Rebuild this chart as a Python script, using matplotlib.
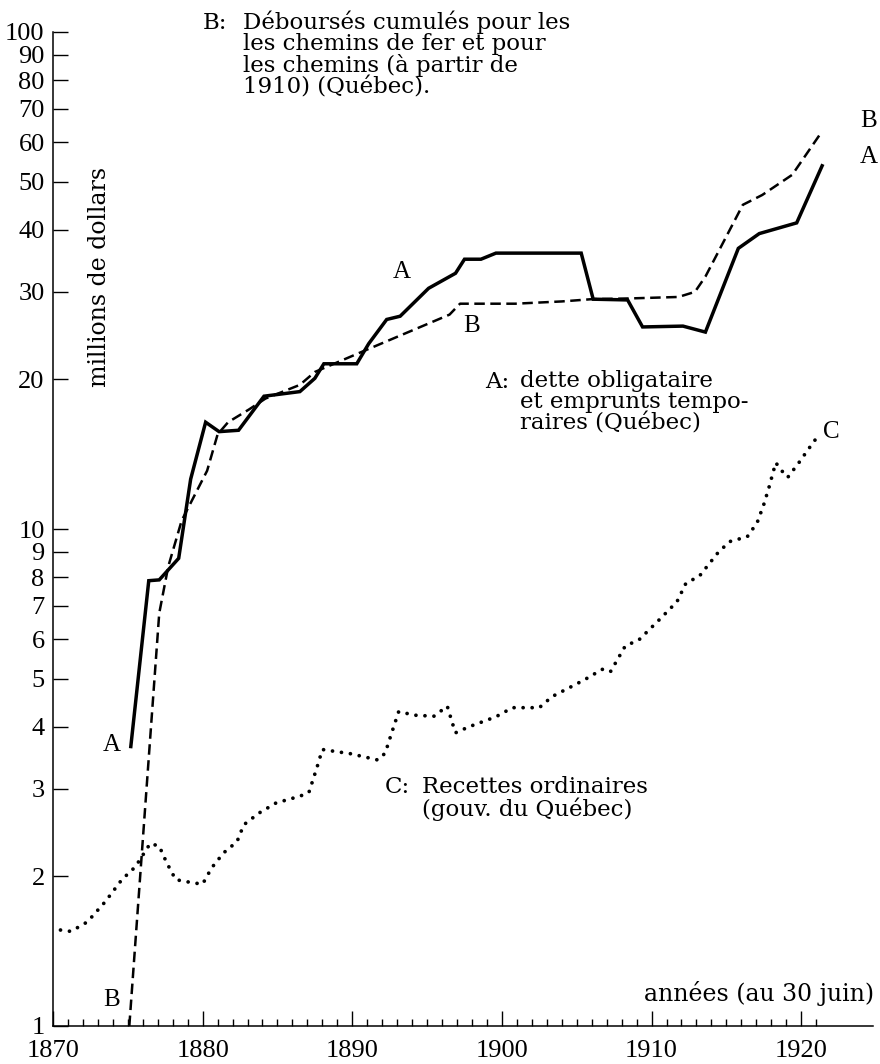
import matplotlib
matplotlib.use("Agg")
import matplotlib.pyplot as plt
from matplotlib.ticker import FixedLocator, NullFormatter

plt.rcParams['font.family'] = ['Liberation Serif', 'DejaVu Serif']

# A: dette obligataire et emprunts temporaires (millions $)
years_a = [1875.2, 1876.4, 1877.1, 1878.4, 1879.2, 1880.2, 1881.1, 1882.4, 1884.1,
           1886.5, 1887.5, 1888.1, 1890.3, 1891.1, 1892.3, 1893.2, 1895.1, 1896.9,
           1897.5, 1898.6, 1899.6, 1905.3, 1906.1, 1908.4, 1909.4, 1912.1, 1913.6,
           1915.8, 1917.2, 1919.7, 1921.4]
dette_a = [3.65, 7.87, 7.9, 8.73, 12.6, 16.4, 15.7, 15.8, 18.5,
           18.9, 20.1, 21.5, 21.5, 23.6, 26.4, 26.8, 30.5, 32.7,
           34.9, 34.9, 35.9, 35.9, 29.0, 28.9, 25.5, 25.6, 24.9,
           36.7, 39.3, 41.3, 53.8]

# B: debourses cumules chemins de fer / chemins
years_b = [1875.1, 1877.1, 1877.7, 1878.6, 1880.3, 1881.0, 1881.7, 1883.1, 1884.2,
           1886.5, 1887.5, 1890.9, 1896.5, 1897.2, 1900.9, 1904.0, 1906.0, 1908.5,
           1911.8, 1912.9, 1913.6, 1916.1, 1917.4, 1919.4, 1921.3]
debours_b = [1.0, 6.77, 8.4, 10.4, 13.1, 15.5, 16.4, 17.4, 18.3,
             19.5, 20.7, 22.9, 27.0, 28.4, 28.4, 28.7, 29.0, 29.1,
             29.3, 30.0, 32.2, 44.9, 47.0, 51.6, 62.5]

# C: recettes ordinaires
years_c = [1870.5, 1871.2, 1872.3, 1873.5, 1874.6, 1875.5, 1876.5, 1877.1, 1877.6,
           1878.2, 1879.4, 1880.0, 1880.6, 1881.4, 1882.3, 1882.75, 1883.75, 1884.9,
           1886.5, 1887.1, 1887.65, 1888.0, 1889.9, 1891.7, 1892.2, 1892.55, 1893.1,
           1894.2, 1895.45, 1896.35, 1896.7, 1896.9, 1897.8, 1899.6, 1900.7, 1902.5,
           1903.35, 1905.0, 1905.7, 1906.7, 1907.25, 1907.9, 1908.25, 1909.15, 1910.5,
           1911.7, 1912.3, 1913.2, 1914.4, 1915.2, 1916.4, 1917.06, 1917.5, 1917.84,
           1918.3, 1918.7, 1919.1, 1919.85, 1920.5, 1921.2]
recettes_c = [1.56, 1.55, 1.62, 1.78, 1.97, 2.09, 2.33, 2.30, 2.13,
              1.97, 1.94, 1.93, 2.08, 2.23, 2.35, 2.54, 2.68, 2.81,
              2.90, 2.95, 3.32, 3.60, 3.53, 3.43, 3.54, 3.82, 4.29,
              4.22, 4.20, 4.40, 4.06, 3.89, 4.0, 4.19, 4.37, 4.37,
              4.6, 4.88, 5.01, 5.22, 5.16, 5.58, 5.82, 5.98, 6.56,
              7.14, 7.78, 8.04, 8.93, 9.43, 9.65, 10.3, 11.2, 12.1,
              13.6, 13.1, 12.7, 13.6, 14.5, 15.5]

y_ticks = [1, 2, 3, 4, 5, 6, 7, 8, 9, 10, 20, 30, 40, 50, 60, 70, 80, 90, 100]
x_major = [1870, 1880, 1890, 1900, 1910, 1920]
x_minor = [y for y in range(1871, 1922) if y % 10 != 0]

W, H = 880, 1064
fig = plt.figure(figsize=(W / 100, H / 100), dpi=100)
ax = fig.add_axes([53 / W, 38 / H, (873 - 53) / W, (1026 - 32) / H])

ax.plot(years_a, dette_a, color='black', lw=2.5, solid_joinstyle='miter')
ax.plot(years_b, debours_b, color='black', lw=1.8, linestyle=(0, (4.2, 2.2)))
ax.plot(years_c, recettes_c, color='black', lw=2.7, linestyle=(0, (0.01, 2.4)),
        dash_capstyle='round')

ax.set_yscale('log')
ax.set_ylim(1, 100)
ax.set_xlim(1870, 1924.8)

ax.yaxis.set_major_locator(FixedLocator(y_ticks))
ax.yaxis.set_minor_locator(FixedLocator([]))
ax.set_yticklabels([str(v) for v in y_ticks])
ax.xaxis.set_major_locator(FixedLocator(x_major))
ax.xaxis.set_minor_locator(FixedLocator(x_minor))
ax.xaxis.set_minor_formatter(NullFormatter())

ax.tick_params(axis='y', direction='in', length=11, width=1.0, labelsize=19, pad=6)
ax.tick_params(axis='x', which='major', direction='in', length=11, width=1.0,
               labelsize=19, pad=10)
ax.tick_params(axis='x', which='minor', direction='in', length=5, width=1.0)

for s in ['top', 'right']:
    ax.spines[s].set_visible(False)
for s in ['left', 'bottom']:
    ax.spines[s].set_linewidth(1.1)

# curve labels
lab = dict(fontsize=18, ha='center', va='center')
ax.text(1893.3, 32.9, 'A', **lab)
ax.text(1898.0, 25.6, 'B', **lab)
ax.text(1924.5, 66.2, 'B', **lab)
ax.text(1924.5, 56.0, 'A', **lab)
ax.text(1922.0, 15.7, 'C', **lab)
ax.text(1873.9, 3.68, 'A', **lab)
ax.text(1873.9, 1.13, 'B', **lab)

def ftext(x, y, s, **kw):
    fig.text(x / W, 1 - y / H, s, **kw)

serif = ['DejaVu Serif']
txt = dict(fontsize=16.5, va='top', ha='left', linespacing=0.97, family=serif)
ftext(203, 12, 'B:', **txt)
ftext(243, 10, 'Déboursés cumulés pour les\nles chemins de fer et pour\n'
      'les chemins (à partir de\n1910) (Québec).', **txt)
ftext(485, 371, 'A:', **txt)
ftext(520, 370, 'dette obligataire\net emprunts tempo-\nraires (Québec)', **txt)
ftext(385, 776, 'C:', **txt)
ftext(422, 776, 'Recettes ordinaires\n(gouv. du Québec)', **txt)
ftext(874, 993, 'années (au 30 juin)', fontsize=17, ha='right', va='center',
      family=serif)
ftext(100, 277, 'millions de dollars', fontsize=17, ha='center', va='center',
      rotation=90, family=serif)

fig.savefig('out.png', dpi=100)
